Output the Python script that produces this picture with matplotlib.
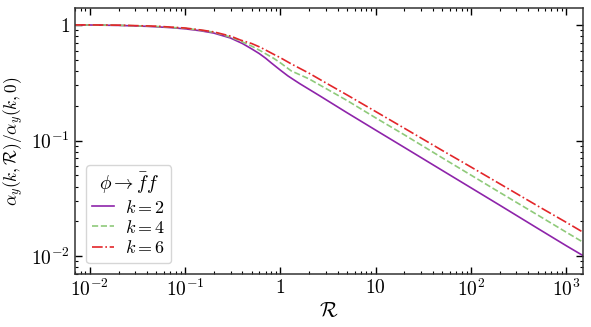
import matplotlib
matplotlib.use('Agg')
import matplotlib.pyplot as plt
from matplotlib.ticker import FuncFormatter, LogLocator
import numpy as np

plt.rcParams['mathtext.fontset'] = 'cm'
plt.rcParams['font.family'] = ['serif']
plt.rcParams['font.serif'] = ['DejaVu Serif']

# Werte
R_k2 = [0.007, 0.01, 0.02, 0.04, 0.07, 0.1, 0.145, 0.2, 0.3, 0.4, 0.5, 0.6, 0.7,
        0.8, 0.9, 1.0, 1.2, 1.4, 1.6, 2.6, 5, 10, 20, 50, 100, 200, 500, 1000, 1500]
y_k2 = [1.0, 0.998, 0.99, 0.972, 0.948, 0.925, 0.89, 0.85, 0.77, 0.69, 0.62, 0.565,
        0.515, 0.47, 0.435, 0.406, 0.362, 0.333, 0.31, 0.243, 0.174, 0.123, 0.0871,
        0.0551, 0.039, 0.0276, 0.0174, 0.0123, 0.0101]

R_k4 = [0.007, 0.01, 0.02, 0.05, 0.1, 0.145, 0.2, 0.3, 0.38, 0.5, 0.617, 0.7, 0.85,
        1.0, 1.3, 2, 3, 5, 10, 20, 50, 100, 200, 500, 1000, 1500]
y_k4 = [1.0, 0.999, 0.993, 0.97, 0.935, 0.9, 0.865, 0.785, 0.726, 0.655, 0.598,
        0.563, 0.514, 0.47, 0.40, 0.341, 0.282, 0.222, 0.157, 0.112, 0.0708,
        0.0502, 0.0356, 0.0227, 0.0161, 0.0132]

R_k6 = [0.007, 0.01, 0.02, 0.05, 0.1, 0.145, 0.2, 0.3, 0.38, 0.5, 0.617, 0.7, 0.85,
        1.0, 1.3, 2, 3, 5, 10, 20, 50, 100, 200, 500, 1000, 1500]
y_k6 = [1.0, 1.0, 0.995, 0.975, 0.94, 0.905, 0.87, 0.80, 0.74, 0.69, 0.64, 0.606,
        0.557, 0.52, 0.46, 0.382, 0.315, 0.248, 0.178, 0.1277, 0.082, 0.059,
        0.0423, 0.0272, 0.0196, 0.0161]

fig = plt.figure(figsize=(5.91, 3.27), dpi=100)
ax = fig.add_axes([0.127, 0.162, 0.8595, 0.8135])

ax.plot(R_k2, y_k2, color='#8e24aa', lw=1.2, label='$k=2$')
ax.plot(R_k4, y_k4, color='#8fca7a', lw=1.2, ls='--', label='$k=4$')
ax.plot(R_k6, y_k6, color='#e3262a', lw=1.2, ls='-.', label='$k=6$')

ax.set_xscale('log')
ax.set_yscale('log')
ax.set_xlim(0.007, 1500)
ax.set_ylim(0.007, 1.4)


def fmt(v, pos):
    e = int(round(np.log10(v)))
    if e == 0:
        return '$1$'
    if e == 1:
        return '$10$'
    return '$10^{%d}$' % e


ax.xaxis.set_major_formatter(FuncFormatter(fmt))
ax.yaxis.set_major_formatter(FuncFormatter(fmt))
ax.xaxis.set_minor_locator(LogLocator(base=10, subs=np.arange(2, 10), numticks=20))
ax.yaxis.set_minor_locator(LogLocator(base=10, subs=np.arange(2, 10), numticks=20))

ax.tick_params(which='both', direction='in', top=True, right=True, labelsize=14)
ax.tick_params(which='major', length=5, width=1)
ax.tick_params(which='minor', length=2.5, width=0.8)
for s in ax.spines.values():
    s.set_linewidth(1.1)
    s.set_color('#333333')

ax.set_xlabel(r'$\mathcal{R}$', fontsize=15, labelpad=1)
ax.set_ylabel(r'$\alpha_y(k,\mathcal{R})/\alpha_y(k,0)$', fontsize=12.5, labelpad=4)

leg = ax.legend(loc='lower left', title=r'$\phi\to\bar{f}f$', fontsize=13,
                title_fontsize=14, handlelength=1.2, labelspacing=0.12,
                borderaxespad=0.6, handletextpad=0.6, borderpad=0.35)

plt.savefig('out.png', dpi=100)
